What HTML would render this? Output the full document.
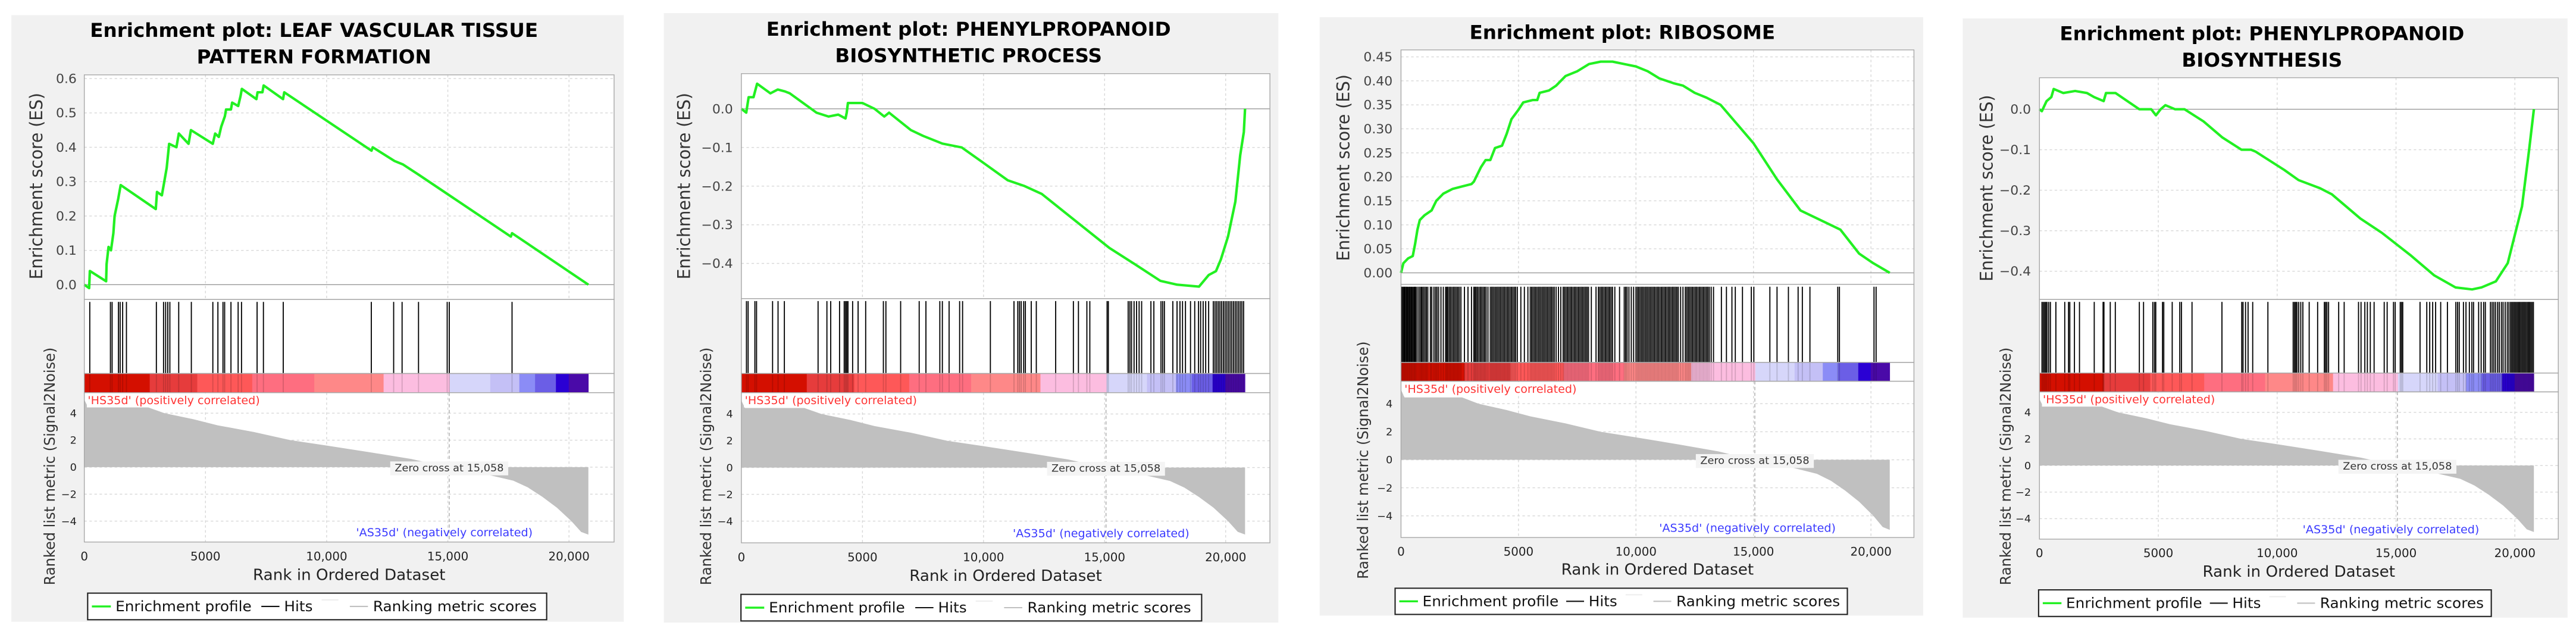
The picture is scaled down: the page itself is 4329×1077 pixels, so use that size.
<!DOCTYPE html>
<html><head><meta charset="utf-8"><title>GSEA enrichment plots</title>
<style>html,body{margin:0;padding:0;background:#fff;}svg{display:block;font-family:"DejaVu Sans","Liberation Sans",sans-serif;}</style>
</head><body>
<svg id="root" xmlns="http://www.w3.org/2000/svg" width="4329" height="1077" viewBox="0 0 4329 1077"></svg>
<script>
// ---------- shared data ----------
const metricRanks = [0,150,2600,3300,4500,5500,7000,8500,10000,11800,13500,14500,15058,16500,17700,18300,18900,19500,20100,20500,20800];
const metricValues = [5.0,4.45,4.45,4.0,3.55,3.1,2.6,2.0,1.6,1.1,0.6,0.2,0.0,-0.5,-1.0,-1.5,-2.2,-3.0,-4.0,-4.8,-5.0];
const barBounds = [0,2700,4660,6930,9490,12350,15080,16750,17950,18600,19460,19990,20800];
const barColors = ["#d40f00","#e63c3c","#fe5858","#fe6e80","#fe8888","#fcbde0","#d6d6fa","#c4c0f6","#8b8cf6","#6b5ee6","#2a00d4","#4a0aa8"];
const xTickValues = [0,5000,10000,15000,20000];
const xTickLabels = ["0","5000","10,000","15,000","20,000"];
const metricTickValues = [4,2,0,-2,-4];
const metricTickLabels = ["4","2","0","\u22122","\u22124"];
const zeroCross = 15058;

// ---------- panel 1 ----------
const es1Ranks = [0,200,230,900,920,1000,1100,1200,1250,1400,1500,2950,3000,3200,3300,3400,3500,3800,3900,4300,4400,5300,5400,5550,5650,5800,5850,6050,6100,6350,6450,6500,7100,7150,7350,7400,8200,8250,11850,11900,12800,13150,13800,17600,17650,20800];
const es1Values = [0,-0.01,0.04,0.01,0.06,0.11,0.1,0.15,0.2,0.25,0.29,0.22,0.27,0.26,0.3,0.34,0.41,0.4,0.44,0.41,0.45,0.41,0.44,0.43,0.46,0.49,0.51,0.51,0.53,0.52,0.55,0.57,0.54,0.56,0.56,0.58,0.54,0.56,0.39,0.4,0.36,0.35,0.32,0.14,0.15,0.0];
const hits1 = [226,1078,1148,1409,1478,1583,1739,2974,3270,3357,3444,3531,3896,4417,5304,5513,5722,5791,6052,6348,6487,7130,7391,8209,11843,12765,13113,13791,14974,15061,17650];
const es1Ticks = [0,0.1,0.2,0.3,0.4,0.5,0.6];
const es1TickLabels = ["0.0","0.1","0.2","0.3","0.4","0.5","0.6"];

// ---------- panel 2 ----------
const es2Ranks = [0,200,300,500,650,1200,1500,1800,2000,3100,3600,4000,4300,4350,4400,5000,5500,5900,6100,7000,7500,8300,9100,10000,11000,11700,12400,14000,15200,16200,17300,18000,18900,19300,19600,19800,20100,20400,20600,20750,20800];
const es2Values = [0,-0.01,0.03,0.03,0.065,0.04,0.05,0.045,0.04,-0.01,-0.02,-0.015,-0.025,-0.01,0.015,0.015,0.0,-0.02,-0.01,-0.055,-0.07,-0.09,-0.1,-0.14,-0.185,-0.2,-0.22,-0.3,-0.36,-0.4,-0.445,-0.455,-0.46,-0.43,-0.42,-0.39,-0.33,-0.24,-0.12,-0.06,0];
const hits2 = [209,278,557,626,1288,1514,1775,3167,3532,3689,4054,4246,4298,4350,4402,4594,4820,5133,5864,5968,6577,7343,7621,8195,8300,8578,9013,9135,10283,11258,11414,11484,11554,11658,11728,11971,12180,12980,13711,13920,14268,14390,15103,15155,15973,16043,16112,16217,16321,16426,16530,16913,17035,17330,17400,17470,17818,17992,18113,18218,18340,18548,18722,18879,18966,19070,19175,19297,19488,19558,19627,19697,19766,19836,19906,19975,20045,20114,20184,20254,20323,20393,20462,20532,20602,20671,20741];
const es2Ticks = [0,-0.1,-0.2,-0.3,-0.4];
const es2TickLabels = ["0.0","\u22120.1","\u22120.2","\u22120.3","\u22120.4"];

// ---------- panel 3 ----------
const es3Ranks = [0,100,300,500,600,700,800,1000,1300,1500,1800,2200,2600,3000,3100,3200,3400,3600,3800,4000,4300,4500,4700,5000,5200,5600,5800,5900,6300,6600,7000,7500,8000,8500,9000,9500,10000,10500,11000,11600,12000,12500,13000,13600,15000,16000,17000,18700,19500,20100,20800];
const es3Values = [0,0.02,0.03,0.035,0.06,0.09,0.11,0.12,0.13,0.15,0.165,0.175,0.18,0.185,0.19,0.2,0.22,0.235,0.235,0.26,0.265,0.29,0.32,0.34,0.355,0.36,0.36,0.375,0.38,0.39,0.41,0.42,0.435,0.44,0.44,0.435,0.43,0.42,0.405,0.395,0.39,0.375,0.365,0.35,0.27,0.195,0.13,0.09,0.04,0.02,0];
const hits3 = [20,60,110,150,190,240,280,330,370,420,460,510,560,600,650,720,790,850,900,960,1020,1080,1140,1250,1310,1400,1470,1530,1600,1700,1800,1900,1950,2000,2060,2120,2180,2240,2300,2360,2420,2480,2550,2700,2850,3000,3100,3150,3200,3260,3320,3380,3440,3500,3560,3620,3700,3800,3860,3920,3980,4040,4100,4160,4220,4280,4340,4400,4460,4520,4580,4640,4700,4760,4820,4880,4950,5100,5250,5400,5500,5560,5620,5680,5740,5800,5860,5920,5980,6040,6100,6160,6220,6280,6340,6400,6460,6520,6600,6700,6800,6900,6960,7020,7080,7140,7200,7260,7320,7380,7440,7500,7560,7620,7680,7740,7800,7860,7920,7980,8100,8300,8400,8460,8520,8580,8640,8700,8760,8820,8880,8940,9000,9100,9300,9500,9560,9620,9700,9800,9900,10000,10060,10120,10180,10240,10300,10360,10420,10480,10540,10600,10660,10720,10780,10840,10900,10960,11020,11080,11140,11200,11260,11320,11380,11440,11500,11560,11620,11680,11740,11800,11900,12000,12100,12160,12220,12280,12340,12400,12460,12520,12580,12640,12700,12760,12820,12880,12940,13000,13060,13120,13200,13300,13635,13850,14083,14227,14532,14908,15016,15698,16003,16487,16900,17080,17403,18587,18659,20130,20219];
const es3Ticks = [0,0.05,0.1,0.15,0.2,0.25,0.3,0.35,0.4,0.45];
const es3TickLabels = ["0.00","0.05","0.10","0.15","0.20","0.25","0.30","0.35","0.40","0.45"];

// ---------- panel 4 ----------
const es4Ranks = [0,100,300,500,600,1000,1500,2000,2300,2700,2800,3200,4200,4700,4900,5100,5300,5700,6100,6900,7700,8500,8900,9100,9500,10300,10900,11800,12300,13500,14400,15600,16600,17500,18200,18600,19200,19700,20000,20300,20600,20800];
const es4Values = [0,-0.005,0.02,0.03,0.05,0.04,0.045,0.04,0.03,0.02,0.04,0.04,0.0,0.0,-0.015,0.0,0.01,0.0,0.0,-0.03,-0.07,-0.1,-0.1,-0.105,-0.12,-0.15,-0.175,-0.195,-0.21,-0.27,-0.305,-0.36,-0.41,-0.44,-0.445,-0.44,-0.425,-0.38,-0.31,-0.24,-0.1,0];
const hits4 = [106,160,213,266,319,390,461,691,1064,1223,1277,1472,1684,2305,2677,2713,2979,3191,4202,4379,4769,4840,4893,5177,5230,5585,5904,5975,6418,7677,8510,8564,8670,8776,8971,9610,10673,10727,10780,10833,10904,10993,11081,11347,11702,11985,12039,12092,12163,12588,12819,13422,13528,13688,13794,13918,14078,14503,14627,14893,14964,15177,15230,15283,16010,16294,16418,16542,16666,16879,17162,17517,17588,17659,17836,17943,18085,18191,18262,18475,18581,18687,18758,18971,19042,19113,19184,19273,19343,19432,19503,19592,19680,19751,19822,19875,19928,19982,20035,20088,20141,20194,20248,20301,20354,20407,20460,20514,20567,20620,20673,20726,20780];
const es4Ticks = [0,-0.1,-0.2,-0.3,-0.4];
const es4TickLabels = es2TickLabels;

const titles = [
  ["Enrichment plot: LEAF VASCULAR TISSUE","PATTERN FORMATION"],
  ["Enrichment plot: PHENYLPROPANOID","BIOSYNTHETIC PROCESS"],
  ["Enrichment plot: RIBOSOME"],
  ["Enrichment plot: PHENYLPROPANOID","BIOSYNTHESIS"]
];

// ---------- layout (zoom-space geometry; not data) ----------
const SX = 0.7083, SY = 0.6873;
const layouts = [
 {ox:0,bx:[27,1480],by:[37,1520],L:200,R:1457,esT:183,esB:732,hB:913,bB:960,mB:1325,x0:200,x20:1350,e0:696,eRY:192,eRV:0.6,m0:1142,m4:1010,tcx:745,tb:[90,155],lg:[208,1297,1450,1515],esTX:100,esTY:455,mTX:130,mTY:1140,tickR:182,xtb:1370,xtt:1418},
 {ox:1100,bx:[22,1480],by:[32,1522],L:206,R:1460,esT:180,esB:730,hB:913,bB:960,mB:1327,x0:206,x20:1355,e0:266,eRY:644,eRV:-0.4,m0:1143,m4:1012,tcx:745,tb:[87,152],lg:[205,1298,1453,1518],esTX:84,esTY:455,mTX:134,mTY:1140,tickR:186,xtb:1372,xtt:1420},
 {ox:2200,bx:[25,1457],by:[42,1505],L:218,R:1435,esT:122,esB:695,hB:886,bB:932,mB:1314,x0:218,x20:1333,e0:667,eRY:139,eRV:0.45,m0:1124,m4:987,tcx:743,tb:[95],lg:[204,1277,1438,1502],esTX:95,esTY:410,mTX:140,mTY:1125,tickR:198,xtb:1358,xtt:1405},
 {ox:3229,bx:[98,1533],by:[45,1510],L:280,R:1511,esT:190,esB:732,hB:912,bB:958,mB:1318,x0:280,x20:1408,e0:267,eRY:663,eRV:-0.4,m0:1138,m4:1008,tcx:808,tb:[98,163],lg:[278,1352,1442,1507],esTX:169,esTY:460,mTX:212,mTY:1140,tickR:260,xtb:1362,xtt:1410}
];
const panelData = [
 [es1Ranks,es1Values,hits1,es1Ticks,es1TickLabels],
 [es2Ranks,es2Values,hits2,es2Ticks,es2TickLabels],
 [es3Ranks,es3Values,hits3,es3Ticks,es3TickLabels],
 [es4Ranks,es4Values,hits4,es4Ticks,es4TickLabels]
];

const NS = "http://www.w3.org/2000/svg";
function mk(parent, tag, attrs, text){
  const e = document.createElementNS(NS, tag);
  for (const k in attrs) e.setAttribute(k, attrs[k]);
  if (text !== undefined) e.textContent = text;
  parent.appendChild(e);
  return e;
}
const root = document.getElementById('root');

layouts.forEach((g, pi) => {
  const [esR, esV, hits, eTicks, eLabels] = panelData[pi];
  const X = r => g.x0 + r / 20000 * (g.x20 - g.x0);
  const YE = v => g.e0 + v * (g.eRY - g.e0) / g.eRV;
  const YM = v => g.m0 - v * (g.m0 - g.m4) / 4;

  const grp = mk(root, 'g', {transform: `translate(${g.ox},0) scale(${SX},${SY})`});
  
  

  const bg = mk(grp, 'rect', {x:g.bx[0], y:g.by[0], width:g.bx[1]-g.bx[0], height:g.by[1]-g.by[0], fill:'#f1f1f1'});
  
  

  titles[pi].forEach((t, i) => {
    const tt = mk(grp, 'text', {x:g.tcx, y:g.tb[i], 'text-anchor':'middle', 'font-size':46, 'font-weight':'bold', fill:'#000'}, t);
    
    
  });

  const esBg = mk(grp, 'rect', {x:g.L, y:g.esT, width:g.R-g.L, height:g.esB-g.esT, fill:'#fff'});
  
  
  const hBg = mk(grp, 'rect', {x:g.L, y:g.esB, width:g.R-g.L, height:g.mB-g.esB, fill:'#fff'});
  
  

  xTickValues.forEach(v => {
    if (v === 0) return;
    const gl = mk(grp, 'line', {x1:X(v), x2:X(v), y1:g.esT, y2:g.esB, stroke:'#d8d8d8', 'stroke-width':2, 'stroke-dasharray':'6,6'});
    
    
    const gl2 = mk(grp, 'line', {x1:X(v), x2:X(v), y1:g.bB, y2:g.mB, stroke:'#d8d8d8', 'stroke-width':2, 'stroke-dasharray':'6,6'});
    
    
  });
  eTicks.forEach((v, i) => {
    const y = YE(v);
    const gl = mk(grp, 'line', {x1:g.L, x2:g.R, y1:y, y2:y, stroke: v===0?'#999':'#d8d8d8', 'stroke-width':2, 'stroke-dasharray': v===0?'none':'6,6'});
    
    
    const tl = mk(grp, 'text', {x:g.tickR, y:y+11, 'text-anchor':'end', 'font-size':31, fill:'#444'}, eLabels[i]);
    
    
  });

  const pts = esR.map((r, i) => X(r).toFixed(1) + ',' + YE(esV[i]).toFixed(1)).join(' ');
  const curve = mk(grp, 'polyline', {points:pts, fill:'none', stroke:'#22f022', 'stroke-width':6, 'stroke-linejoin':'round'});
  
  

  hits.forEach(r => {
    const h = mk(grp, 'line', {x1:X(r), x2:X(r), y1:g.esB+6, y2:g.hB, stroke:'#000', 'stroke-width':2.6});
    
    
  });

  barColors.forEach((c, i) => {
    const b = mk(grp, 'rect', {x:X(barBounds[i]), y:g.hB, width:X(barBounds[i+1])-X(barBounds[i])+0.5, height:g.bB-g.hB, fill:c});
    
    
  });
  hits.forEach(r => {
    const h = mk(grp, 'line', {x1:X(r), x2:X(r), y1:g.hB, y2:g.bB, stroke:'#000', 'stroke-width':2.6, 'stroke-opacity':0.15});
    
    
  });

  metricTickValues.forEach((v, i) => {
    const y = YM(v);
    const gl = mk(grp, 'line', {x1:g.L, x2:g.R, y1:y, y2:y, stroke:'#d8d8d8', 'stroke-width':2, 'stroke-dasharray':'6,6'});
    
    
    const tl = mk(grp, 'text', {x:g.tickR, y:y+9, 'text-anchor':'end', 'font-size':25, fill:'#222'}, metricTickLabels[i]);
    
    
  });

  let mp = X(metricRanks[0]).toFixed(1) + ',' + YM(0).toFixed(1) + ' ';
  mp += metricRanks.map((r, i) => X(r).toFixed(1) + ',' + YM(metricValues[i]).toFixed(1)).join(' ');
  mp += ' ' + X(metricRanks[metricRanks.length-1]).toFixed(1) + ',' + YM(0).toFixed(1);
  const area = mk(grp, 'polygon', {points:mp, fill:'#c0c0c0'});
  
  

  const zl = mk(grp, 'line', {x1:X(zeroCross), x2:X(zeroCross), y1:g.bB, y2:g.mB, stroke:'#aaa', 'stroke-width':2, 'stroke-dasharray':'8,6'});
  
  

  const hsBg = mk(grp, 'rect', {x:g.L+6, y:g.bB+2, width:428, height:34, fill:'#fff'});
  
  
  const hs = mk(grp, 'text', {x:g.L+8, y:g.bB+28, 'font-size':27, fill:'#ff3333'}, "'HS35d' (positively correlated)");
  
  

  const zx = X(zeroCross);
  const zBg = mk(grp, 'rect', {x:zx-140, y:g.m0-14, width:280, height:34, fill:'#f4f4f4'});
  
  
  const zt = mk(grp, 'text', {x:zx, y:g.m0+10, 'text-anchor':'middle', 'font-size':25, fill:'#333'}, 'Zero cross at 15,058');
  
  

  const as = mk(grp, 'text', {x:X(18500), y:g.mB-14, 'text-anchor':'end', 'font-size':27, fill:'#3a3aff'}, "'AS35d' (negatively correlated)");
  
  

  [[g.esT,g.esB],[g.esB,g.hB],[g.hB,g.bB],[g.bB,g.mB]].forEach(([a,b]) => {
    const br = mk(grp, 'rect', {x:g.L, y:a, width:g.R-g.L, height:b-a, fill:'none', stroke:'#a8a8a8', 'stroke-width':2});
    
    
  });

  xTickValues.forEach((v, i) => {
    const t = mk(grp, 'text', {x:X(v), y:g.xtb, 'text-anchor':'middle', 'font-size':28, fill:'#222'}, xTickLabels[i]);
    
    
  });
  const xt = mk(grp, 'text', {x:(g.L+g.R)/2, y:g.xtt, 'text-anchor':'middle', 'font-size':37, fill:'#222'}, 'Rank in Ordered Dataset');
  
  

  const yt = mk(grp, 'text', {x:0, y:0, transform:`translate(${g.esTX},${g.esTY}) rotate(-90)`, 'text-anchor':'middle', 'font-size':41, fill:'#333'}, 'Enrichment score (ES)');
  
  
  const mt = mk(grp, 'text', {x:0, y:0, transform:`translate(${g.mTX},${g.mTY}) rotate(-90)`, 'text-anchor':'middle', 'font-size':35, fill:'#333'}, 'Ranked list metric (Signal2Noise)');
  
  

  const [lx0, lx1, ly0, ly1] = g.lg;
  const lgd = mk(grp, 'g', {});
  
  
  mk(lgd, 'rect', {x:lx0, y:ly0, width:lx1-lx0, height:ly1-ly0, fill:'#fff', stroke:'#222', 'stroke-width':3});
  const cy = (ly0 + ly1) / 2;
  const sc = (lx1 - lx0) / 1089;
  const ge = mk(lgd, 'line', {x1:lx0+10*sc, x2:lx0+55*sc, y1:cy, y2:cy, stroke:'#22f022', 'stroke-width':5});
  
  
  const t1 = mk(lgd, 'text', {x:lx0+66*sc, y:cy+12, 'font-size':35, fill:'#111'}, 'Enrichment profile');
  
  
  mk(lgd, 'line', {x1:lx0+412*sc, x2:lx0+455*sc, y1:cy, y2:cy, stroke:'#111', 'stroke-width':3});
  const t2 = mk(lgd, 'text', {x:lx0+466*sc, y:cy+12, 'font-size':35, fill:'#111'}, 'Hits');
  
  
  mk(lgd, 'line', {x1:lx0+555*sc, x2:lx0+595*sc, y1:cy-16, y2:cy-16, stroke:'#eee', 'stroke-width':3});
  mk(lgd, 'line', {x1:lx0+622*sc, x2:lx0+665*sc, y1:cy, y2:cy, stroke:'#c0c0c0', 'stroke-width':3});
  const t3 = mk(lgd, 'text', {x:lx0+677*sc, y:cy+12, 'font-size':35, fill:'#111'}, 'Ranking metric scores');
  
  
});
</script>
</body></html>
